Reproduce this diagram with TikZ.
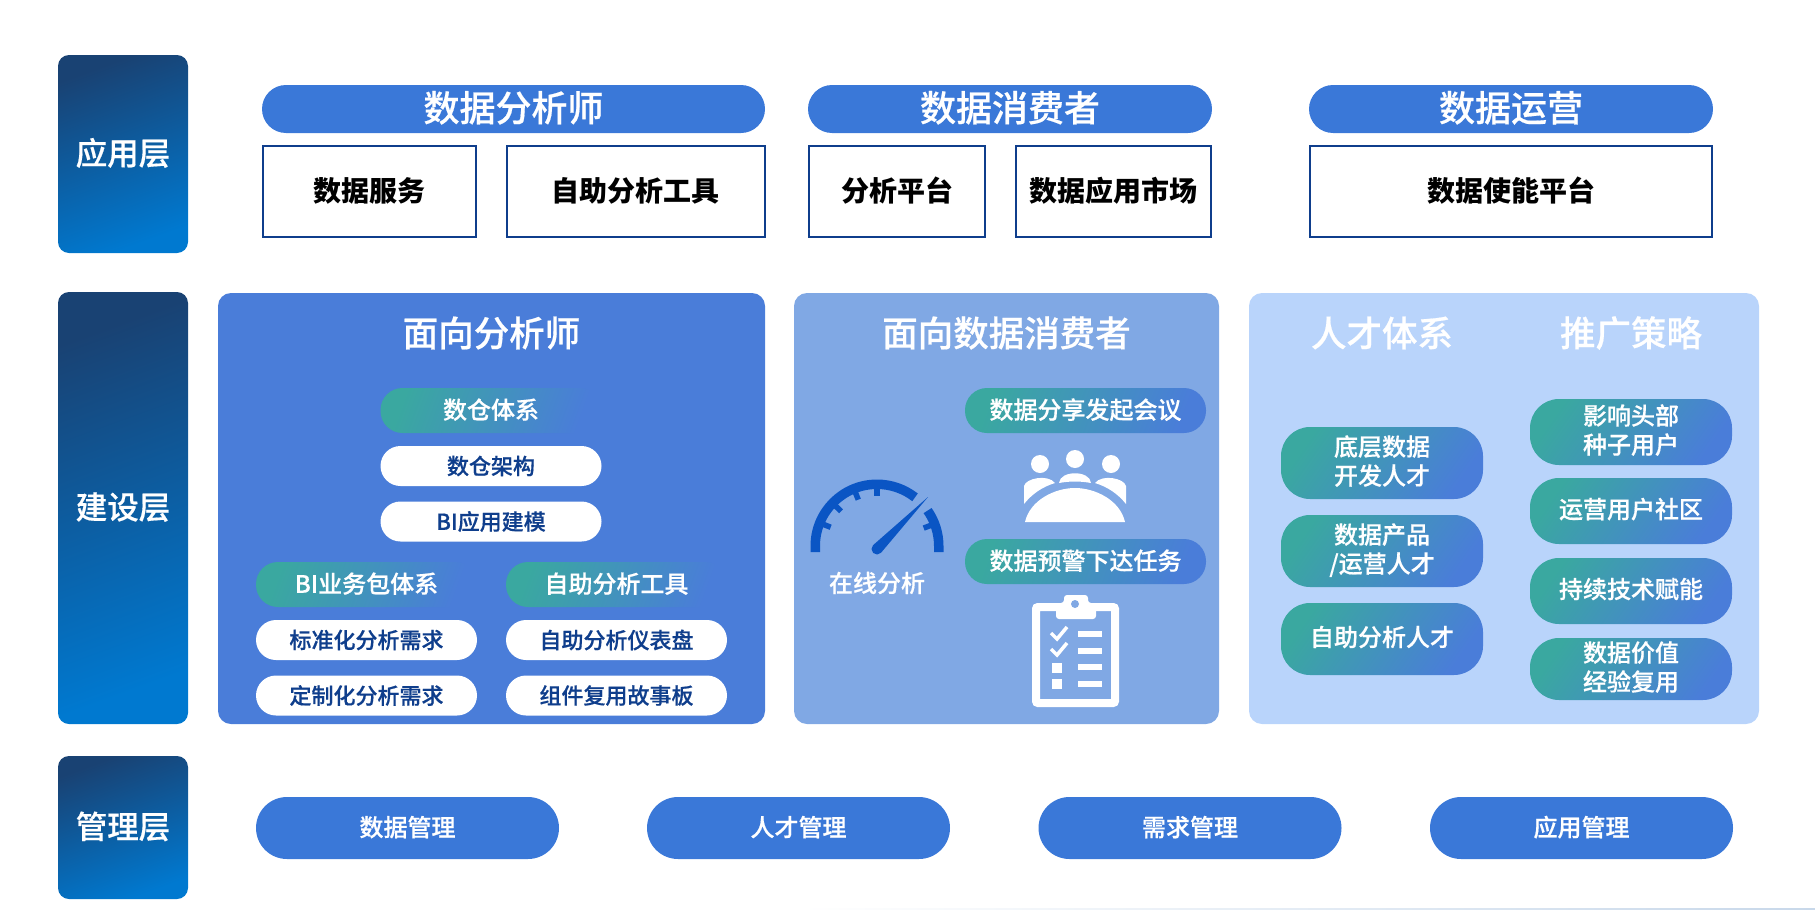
\documentclass[tikz,border=0pt]{standalone}
\usepackage{fontspec}
\usepackage{tikz}
\setmainfont{Noto Sans CJK SC}
\newfontfamily\medfont[FakeBold=0.5]{Noto Sans CJK SC Medium}
\definecolor{pillblue}{HTML}{3A78D8}
\definecolor{panelone}{HTML}{4A7DD9}
\definecolor{paneltwo}{HTML}{80A8E4}
\definecolor{panelthree}{HTML}{B9D4FB}
\definecolor{barbtm}{HTML}{0079D0}
\definecolor{bartop}{HTML}{194273}
\definecolor{tealpill}{HTML}{3AA8A0}
\definecolor{navytext}{HTML}{0F3E8C}
\definecolor{gaugeblue}{HTML}{0A55C4}
\definecolor{edgeline}{HTML}{C8D8EA}

\begin{document}
\begin{tikzpicture}[x=1pt,y=-1pt]
		\tikzset{nudge/.style={text height=0.86*#1, text depth=0.17*#1}}
		\tikzset{layerbar/.style={rounded corners=11, inner sep=0, text=white, nudge=31.5, font=\medfont\fontsize{31.5}{36}\selectfont,
				top color=bartop, bottom color=barbtm, shading angle=20, minimum width=130}}
		\tikzset{headpill/.style={rounded corners=24, inner sep=0, fill=pillblue, text=white, nudge=36,
				font=\medfont\fontsize{36}{40}\selectfont, minimum height=48}}
		\tikzset{toolbox/.style={draw=navytext, line width=2, inner sep=0, fill=white, nudge=28,
				font=\fontsize{28}{32}\selectfont\bfseries, minimum height=91}}
		\tikzset{panel/.style={rounded corners=13, inner sep=0}}
		\tikzset{paneltitle/.style={inner sep=0, text=white, font=\medfont\fontsize{35.5}{40}\selectfont}}
		\tikzset{tealfade/.style={rounded corners=22, inner sep=0, left color=tealpill, right color=panelone, nudge=24,
				shading angle=70, text=white, font=\medfont\fontsize{24}{28}\selectfont, minimum width=221, minimum height=45}}
		\tikzset{whitepill/.style={rounded corners=20, inner sep=0, fill=white, text=navytext,
				font=\medfont\fontsize{22}{28}\selectfont, minimum width=221, minimum height=40}}
		\tikzset{sidepill/.style={rounded corners=29, inner sep=0, left color=tealpill, right color=panelone, text depth=6,
				shading angle=55, text=white, align=center, font=\medfont\fontsize{24}{29}\selectfont}}
		\tikzset{basepill/.style={rounded corners=31, inner sep=0, fill=pillblue, text=white, nudge=24,
				font=\medfont\fontsize{24}{28}\selectfont, minimum width=303, minimum height=62}}
		\useasboundingbox (0,0) rectangle (1815,910);
					%layers
					\node[layerbar, minimum height=198] (app) at (123,154) {应用层};
					\node[layerbar, minimum height=432] (build) at (123,508) {建设层};
					\node[layerbar, minimum height=143] (manage) at (123,827.5) {管理层};
					%top row
					\node[headpill, minimum width=503] (analyst) at (513.5,109) {数据分析师};
					\node[headpill, minimum width=404] (consumer) at (1010,109) {数据消费者};
					\node[headpill, minimum width=404] (operate) at (1511,109) {数据运营};
					\node[toolbox, minimum width=213] (service) at (369.5,191.5) {数据服务};
					\node[toolbox, minimum width=258] (selftool) at (635.5,191.5) {自助分析工具};
					\node[toolbox, minimum width=176] (platform) at (897,191.5) {分析平台};
					\node[toolbox, minimum width=195] (market) at (1113.5,191.5) {数据应用市场};
					\node[toolbox, minimum width=402] (enable) at (1511,191.5) {数据使能平台};
					%panels
					\node[panel, fill=panelone, minimum width=547, minimum height=431] (forana) at (491.5,508.5) {};
					\node[panel, fill=paneltwo, minimum width=425, minimum height=431] (forcon) at (1006.5,508.5) {};
					\node[panel, fill=panelthree, minimum width=510, minimum height=431] (talent) at (1504,508.5) {};
					\node[paneltitle] (foranatitle) at (491.5,333) {面向分析师};
					\node[paneltitle] (forcontitle) at (1006.5,333) {面向数据消费者};
					\node[paneltitle] (talenttitle) at (1382,333) {人才体系};
					\node[paneltitle] (promotitle) at (1631,333) {推广策略};
					%analyst pills
					\node[tealfade] (dwsys) at (491,410.5) {数仓体系};
					\node[whitepill] (dwarch) at (491,466) {数仓架构};
					\node[whitepill] (bimodel) at (491,521.5) {BI应用建模};
					\node[tealfade] (bipack) at (366.5,584.5) {BI业务包体系};
					\node[tealfade] (selfana) at (616.5,584.5) {自助分析工具};
					\node[whitepill] (stdneed) at (366.5,640) {标准化分析需求};
					\node[whitepill] (cusneed) at (366.5,695.5) {定制化分析需求};
					\node[whitepill] (dash) at (616.5,640) {自助分析仪表盘};
					\node[whitepill] (story) at (616.5,695.5) {组件复用故事板};
					%consumer pills
					\node[tealfade, minimum width=241] (share) at (1085.5,410.5) {数据分享发起会议};
					\node[tealfade, minimum width=241] (alert) at (1085.5,561.5) {数据预警下达任务};
					\node[inner sep=0, text=white, font=\medfont\fontsize{24}{28}\selectfont] (online) at (877,583) {在线分析};
					%gauge
					\begin{scope}[shift={(877,546)},y=1pt,gaugeblue]
						\draw[line width=9.5] (-61.75,-6) -- (180:61.75) arc (180:52:61.75);
						\draw[line width=9.5] (61.75,-6) -- (0:61.75) arc (0:35:61.75);
						\foreach \a in {21,90,112,136,158}
							\draw[line width=5.5] (\a:59) -- (\a:50);
						\fill[shift={(0,-3)}] (51,52) -- (136:5.5) arc (136:316:5.5) -- cycle;
					\end{scope}
					%people
					\fill[white] (1040,464) circle (9) (1075,459) circle (9) (1111,464) circle (9);
					\fill[white] (1024,504) -- (1024,486) .. controls (1026,478) and (1048,474) .. (1055,483) .. controls (1042,487) and (1032,494) .. (1024,504) -- cycle;
					\fill[white] (1126,504) -- (1126,486) .. controls (1124,478) and (1102,474) .. (1095,483) .. controls (1108,487) and (1118,494) .. (1126,504) -- cycle;
					\fill[white] (1059,483) .. controls (1060,470) and (1090,470) .. (1091,483) .. controls (1080,481) and (1070,481) .. (1059,483) -- cycle;
					\fill[white] (1025,522) .. controls (1030,500) and (1055,488) .. (1075,488) .. controls (1095,488) and (1120,500) .. (1125,522) -- cycle;
					%clipboard
					\draw[white, line width=8, rounded corners=2] (1036,607) rectangle (1115,703);
					\fill[white, rounded corners=3] (1056,619) -- (1056,603) -- (1064,603) -- (1064,595) -- (1088,595) -- (1088,603) -- (1096,603) -- (1096,619) -- cycle;
					\fill[paneltwo] (1075,604) circle (4);
					\foreach \y in {634,651,667,684}
						\fill[white] (1078,\y-3) rectangle (1102,\y+3);
					\foreach \y in {633,649}
						\draw[white, line width=3.5] (1051,\y) -- (1057,\y+6) -- (1067,\y-6);
					\foreach \y in {663,679}
						\fill[white] (1052,\y) rectangle (1062,\y+10);
					%talent pills
					\node[sidepill, minimum width=202, minimum height=72] (lowdev) at (1382,463) {底层数据\\开发人才};
					\node[sidepill, minimum width=202, minimum height=72] (prodop) at (1382,551) {数据产品\\/运营人才};
					\node[sidepill, minimum width=202, minimum height=72] (selftal) at (1382,639) {自助分析人才};
					\node[sidepill, minimum width=202, minimum height=66] (seed) at (1631,432) {影响头部\\种子用户};
					\node[sidepill, minimum width=202, minimum height=66] (forum) at (1631,511) {运营用户社区};
					\node[sidepill, minimum width=202, minimum height=66] (enabletech) at (1631,591) {持续技术赋能};
					\node[sidepill, minimum width=202, minimum height=62] (reuse) at (1631,669) {数据价值\\经验复用};
					%bottom row
					\node[basepill] (datamgr) at (407.5,828) {数据管理};
					\node[basepill] (talentmgr) at (798.5,828) {人才管理};
					\node[basepill] (needmgr) at (1190,828) {需求管理};
					\node[basepill] (appmgr) at (1581.5,828) {应用管理};
					%edge
					\shade[left color=white, right color=edgeline] (800,908.5) rectangle (1815,910);
					
					\end{tikzpicture}
\end{document}
